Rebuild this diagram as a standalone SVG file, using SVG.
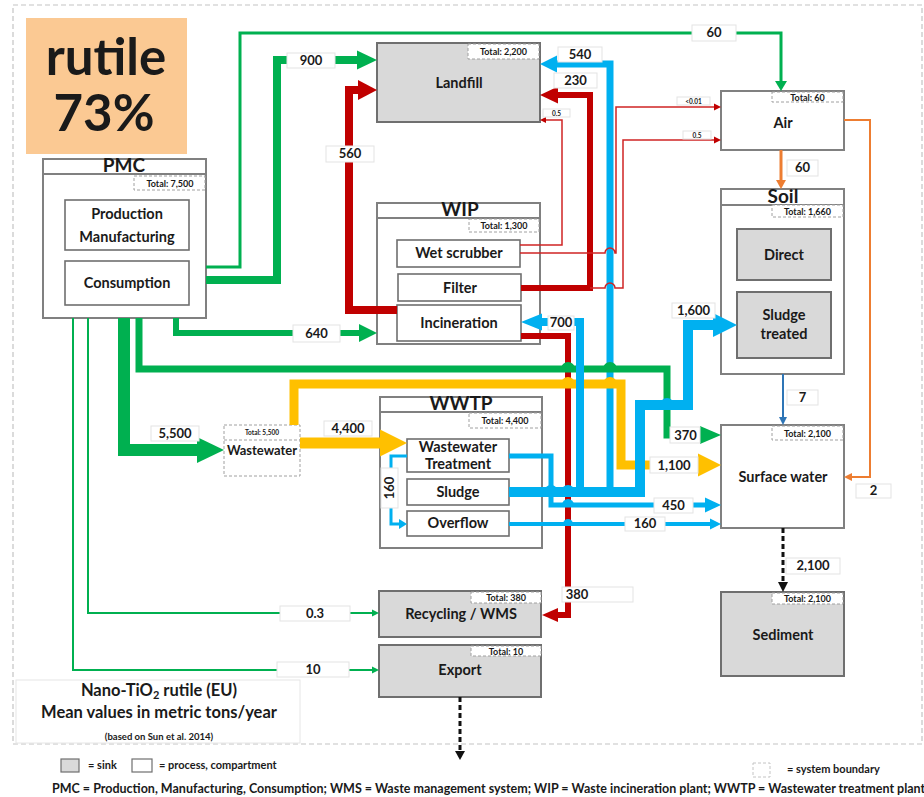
<svg xmlns="http://www.w3.org/2000/svg" xmlns:xlink="http://www.w3.org/1999/xlink" width="924" height="797" viewBox="0 0 924 797">
<defs>
<path id="ah" d="M-1,-1 L0,0 L-1,1 Z"/>
<style>
text{font-family:Lato,"Open Sans","Liberation Sans",sans-serif;fill:#1a1a1a;font-weight:700}
.box{fill:#fff;stroke:#808080;stroke-width:2}
.in{fill:#fff;stroke:#6f6f6f;stroke-width:1.6}
.sink{fill:#d9d9d9;stroke:#6f6f6f;stroke-width:2}
.tot{fill:#fff;stroke:#a0a0a0;stroke-width:1;stroke-dasharray:3 2}
.tt{font-size:9px;text-anchor:middle}
.lb rect{fill:#fff;stroke:#e3e3e3;stroke-width:1}
.lb text{font-size:13px;text-anchor:middle}
.lb .s{font-size:6.5px}
.nm{text-anchor:middle;font-size:14.5px}
.hd{text-anchor:middle;font-size:19px}
.g{stroke:#00B050;fill:none}
.r{stroke:#C00000;fill:none}
.rt{stroke:#D02424;fill:none}
.b{stroke:#00B0F0;fill:none}
.y{stroke:#FFC000;fill:none}
.o{stroke:#ED7D31;fill:none}
.k{stroke:#111;fill:none;stroke-dasharray:5 3}
</style>
</defs>
<rect width="924" height="797" fill="#fff"/>
<rect x="13" y="5" width="909" height="739" fill="none" stroke="#c4c4c4" stroke-width="1.2" stroke-dasharray="5 3"/>

<g id="title">
<rect x="26" y="18" width="161" height="136" fill="#FBC993"/>
<text x="106" y="75" text-anchor="middle" font-size="51">rutile</text>
<text x="104" y="131" text-anchor="middle" font-size="51">73%</text>
</g>

<g id="pmc">
<rect class="box" x="43" y="159" width="163" height="159"/>
<line x1="43" y1="174" x2="206" y2="174" stroke="#808080" stroke-width="2"/>
<text class="hd" x="124" y="172">PMC</text>
<rect class="tot" x="134" y="176" width="71" height="14"/><text class="tt" x="170" y="187">Total: 7,500</text>
<rect class="in" x="65" y="200" width="124" height="50"/>
<text class="nm" x="127" y="219">Production</text><text class="nm" x="127" y="242">Manufacturing</text>
<rect class="in" x="65" y="261" width="124" height="44"/>
<text class="nm" x="127" y="288">Consumption</text>
</g>

<g id="landfill">
<rect class="sink" x="377" y="43" width="163" height="79"/>
<rect class="tot" x="468" y="44" width="71" height="15"/><text class="tt" x="503.5" y="55">Total: 2,200</text>
<text class="nm" x="459" y="88">Landfill</text>
</g>

<g id="air">
<rect class="box" x="721" y="91" width="123" height="59"/>
<rect class="tot" x="772" y="92" width="71" height="10"/><text class="tt" x="807.5" y="100.5">Total: 60</text>
<text class="nm" x="783" y="128" font-size="21">Air</text>
</g>

<g id="soil">
<rect class="box" x="721" y="189" width="123" height="185"/>
<line x1="721" y1="205" x2="844" y2="205" stroke="#808080" stroke-width="2"/>
<text class="hd" x="783" y="203">Soil</text>
<rect class="tot" x="772" y="205" width="71" height="12"/><text class="tt" x="807.5" y="215">Total: 1,660</text>
<rect class="sink" x="737" y="229" width="94" height="51"/>
<text class="nm" x="784" y="260">Direct</text>
<rect class="sink" x="737" y="292" width="94" height="66"/>
<text class="nm" x="784" y="320">Sludge</text><text class="nm" x="784" y="339">treated</text>
</g>

<g id="wip">
<rect class="box" x="377" y="203" width="163" height="141"/>
<line x1="377" y1="218" x2="540" y2="218" stroke="#808080" stroke-width="2"/>
<text class="hd" x="460" y="216">WIP</text>
<rect class="tot" x="469" y="219" width="70" height="13"/><text class="tt" x="504" y="229">Total: 1,300</text>
<rect class="in" x="397" y="240" width="123" height="27"/><text class="nm" x="459" y="258">Wet scrubber</text>
<rect class="in" x="398" y="274" width="123" height="27"/><text class="nm" x="460" y="293">Filter</text>
<rect class="in" x="397" y="305" width="124" height="36"/><text class="nm" x="459" y="328">Incineration</text>
</g>

<g id="wastewater">
<rect x="224" y="425" width="76" height="51" fill="#fff" stroke="#a0a0a0" stroke-width="1" stroke-dasharray="3 2"/>
<line x1="224" y1="440" x2="300" y2="440" stroke="#a0a0a0" stroke-width="1" stroke-dasharray="3 2"/>
<text x="262" y="435" text-anchor="middle" font-size="6.5">Total: 5,500</text>
<text x="262" y="455" text-anchor="middle" font-size="13">Wastewater</text>
</g>

<g id="wwtp">
<rect class="box" x="380" y="397" width="162" height="151"/>
<line x1="380" y1="412" x2="542" y2="412" stroke="#808080" stroke-width="2"/>
<text class="hd" x="461" y="410">WWTP</text>
<rect class="tot" x="469" y="413" width="72" height="15"/><text class="tt" x="505" y="424">Total: 4,400</text>
<rect class="in" x="407" y="439" width="102" height="33"/>
<text class="nm" x="458" y="452" font-size="14">Wastewater</text><text class="nm" x="458" y="469" font-size="14">Treatment</text>
<rect class="in" x="407" y="479" width="102" height="26"/><text class="nm" x="458" y="497">Sludge</text>
<rect class="in" x="407" y="511" width="102" height="25"/><text class="nm" x="458" y="528">Overflow</text>
</g>

<g id="surfacewater">
<rect class="box" x="721" y="425" width="123" height="103"/>
<rect class="tot" x="772" y="426" width="71" height="14"/><text class="tt" x="807.5" y="437">Total: 2,100</text>
<text class="nm" x="783" y="482" font-size="17.5">Surface water</text>
</g>

<g id="sediment">
<rect class="sink" x="721" y="592" width="123" height="84"/>
<rect class="tot" x="772" y="593" width="71" height="11"/><text class="tt" x="807.5" y="602">Total: 2,100</text>
<text class="nm" x="783" y="640" font-size="18.5">Sediment</text>
</g>

<g id="recycling">
<rect class="sink" x="379" y="591" width="162" height="46"/>
<rect class="tot" x="471" y="592" width="70" height="11"/><text class="tt" x="506" y="601">Total: 380</text>
<text class="nm" x="461" y="619" font-size="15">Recycling / WMS</text>
</g>

<g id="export">
<rect class="sink" x="379" y="645" width="162" height="52"/>
<rect class="tot" x="471" y="646" width="70" height="10"/><text class="tt" x="506" y="654.5">Total: 10</text>
<text class="nm" x="460" y="675" font-size="15">Export</text>
</g>

<g id="connectors">
<g id="f380"><path class="r" stroke-width="6" d="M521,336 H568 V615 H557"/><use xlink:href="#ah" fill="#C00000" transform="translate(542,615) rotate(180) scale(16,7)"/></g>
<g id="f540"><path class="b" stroke-width="7" d="M610,492 V64 H556"/><use xlink:href="#ah" fill="#00B0F0" transform="translate(540,64) rotate(180) scale(17,8.5)"/></g>
<g id="f450"><path class="b" stroke-width="5" d="M509,456 H551 V505 H706"/><path d="M562,505 A6,6 0 0 1 574,505 Z" fill="#00B0F0"/><use xlink:href="#ah" fill="#00B0F0" transform="translate(721,505) scale(16,7.5)"/></g>
<g id="f160o"><path class="b" stroke-width="4" d="M509,524 H711"/><path d="M563,524 A5,5 0 0 1 573,524 Z" fill="#00B0F0"/><use xlink:href="#ah" fill="#00B0F0" transform="translate(721,524) scale(11,5.5)"/></g>
<g id="f230"><path class="r" stroke-width="6" d="M521,288 H590 V95 H557"/><use xlink:href="#ah" fill="#C00000" transform="translate(540,95) rotate(180) scale(18,8.5)"/></g>
<g id="f560"><path class="r" stroke-width="8" d="M397,310 H349 V90 H359"/><use xlink:href="#ah" fill="#C00000" transform="translate(377,90) scale(19,10)"/></g>
<g id="f05l"><path class="rt" stroke-width="1.5" d="M520,245 H562 V120 H546"/><use xlink:href="#ah" fill="#C00000" transform="translate(540,120) rotate(180) scale(6,3)"/></g>
<g id="f001"><path class="rt" stroke-width="1.5" d="M520,253 H605 A5,5 0 0 1 615,253 H616 V107 H715"/><use xlink:href="#ah" fill="#C00000" transform="translate(721,107) scale(7,3.5)"/></g>
<g id="f05a"><path class="rt" stroke-width="1.5" d="M590,288 H605 A5,5 0 0 1 615,288 H623 V140 H715"/><use xlink:href="#ah" fill="#C00000" transform="translate(721,140) scale(7,3.5)"/></g>
<g id="f60"><path class="g" stroke-width="3" d="M206,267 H240 V33 H781 V81"/><use xlink:href="#ah" fill="#00B050" transform="translate(781,91) rotate(90) scale(10,6)"/></g>
<g id="f900"><path class="g" stroke-width="8" d="M206,280 H277 V60 H358"/><use xlink:href="#ah" fill="#00B050" transform="translate(377,60) scale(20,9.5)"/></g>
<g id="f640"><path class="g" stroke-width="6" d="M176,318 V333 H359"/><use xlink:href="#ah" fill="#00B050" transform="translate(377,333) scale(18,9)"/></g>
<g id="f370"><path class="g" stroke-width="7" d="M139,318 V369 H667 V435 H701"/><path d="M561,369 A7,7 0 0 1 575,369 Z M603,369 A7,7 0 0 1 617,369 Z" fill="#00B050"/><use xlink:href="#ah" fill="#00B050" transform="translate(721,435) scale(21,9)"/></g>
<g id="f5500"><path class="g" stroke-width="12" d="M124,318 V450 H198"/><use xlink:href="#ah" fill="#00B050" transform="translate(224,450) scale(27,13)"/></g>
<g id="f03"><path class="g" stroke-width="2" d="M88,318 V613 H372"/><use xlink:href="#ah" fill="#00B050" transform="translate(379,613) scale(7,3.5)"/></g>
<g id="f10"><path class="g" stroke-width="2" d="M73,318 V670 H372"/><use xlink:href="#ah" fill="#00B050" transform="translate(379,670) scale(7,3.5)"/></g>
<g id="f4400"><path class="y" stroke-width="11" d="M300,443 H381"/><use xlink:href="#ah" fill="#FFC000" transform="translate(407,443) scale(27,13.5)"/></g>
<g id="f1100"><path class="y" stroke-width="9" d="M294,425 V384 H621 V465 H699"/><path d="M561,384 A7,7 0 0 1 575,384 Z M603,384 A7,7 0 0 1 617,384 Z" fill="#FFC000"/><use xlink:href="#ah" fill="#FFC000" transform="translate(721,465) scale(23,11.5)"/></g>
<g id="f1600"><path class="b" stroke-width="10" d="M509,492 H640 V405 H688 V325 H713"/><path d="M544,492 A7,7 0 0 1 558,492 Z M561,492 A7,7 0 0 1 575,492 Z M660,405 A7,7 0 0 1 674,405 Z" fill="#00B0F0"/><use xlink:href="#ah" fill="#00B0F0" transform="translate(737,325) scale(24,12)"/></g>
<g id="f700"><path class="b" stroke-width="8" d="M580,492 V322 H542"/><use xlink:href="#ah" fill="#00B0F0" transform="translate(521,322) rotate(180) scale(21,8.5)"/></g>
<g id="f160v"><path class="b" stroke-width="3" d="M407,456 H391 V524 H399"/><use xlink:href="#ah" fill="#00B0F0" transform="translate(407,524) scale(8,5)"/></g>
<g id="f60s"><path class="o" stroke-width="3" d="M781,150 V180"/><use xlink:href="#ah" fill="#ED7D31" transform="translate(781,189) rotate(90) scale(9,5)"/></g>
<g id="f2"><path class="o" stroke-width="2" d="M844,120 H870 V477 H852"/><use xlink:href="#ah" fill="#ED7D31" transform="translate(844,477) rotate(180) scale(8,4)"/></g>
<g id="f7"><path stroke="#2E75B6" fill="none" stroke-width="2" d="M783,374 V417"/><use xlink:href="#ah" fill="#2E75B6" transform="translate(783,425) rotate(90) scale(8,4)"/></g>
<g id="f2100"><path class="k" stroke-width="3" d="M783,528 V582"/><use xlink:href="#ah" fill="#111" transform="translate(783,592) rotate(90) scale(10,5)"/></g>
<g id="fexp"><path class="k" stroke-width="3" d="M460,697 V751"/><use xlink:href="#ah" fill="#111" transform="translate(460,760) rotate(90) scale(9,5)"/></g>
<g class="lb">
<rect x="692" y="25" width="44" height="16"/><text x="714" y="37">60</text>
<rect x="287" y="53" width="48" height="15"/><text x="311" y="65">900</text>
<rect x="293" y="325" width="47" height="17"/><text x="316.5" y="338">640</text>
<rect x="670" y="427" width="30" height="16"/><text x="685.5" y="440">370</text>
<rect x="151" y="426" width="48" height="15"/><text x="175" y="438">5,500</text>
<rect x="280" y="606" width="70" height="15"/><text x="315" y="618">0.3</text>
<rect x="277" y="662" width="72" height="15"/><text x="313" y="674">10</text>
<rect x="324" y="421" width="48" height="15"/><text x="348" y="433">4,400</text>
<rect x="650" y="457" width="48" height="16"/><text x="674" y="470">1,100</text>
<rect x="672" y="303" width="43" height="15"/><text x="693.5" y="315">1,600</text>
<rect x="548" y="316" width="26" height="14"/><text x="561" y="327">700</text>
<rect x="558" y="47" width="44" height="15"/><text x="580" y="59">540</text>
<rect x="654" y="498" width="39" height="15"/><text x="673.5" y="510">450</text>
<rect x="625" y="517" width="40" height="14"/><text x="645" y="528">160</text>
<rect x="381" y="468" width="17" height="40"/><text transform="translate(394,488) rotate(-90)">160</text>
<rect x="326" y="146" width="48" height="16"/><text x="350" y="158">560</text>
<rect x="554" y="73" width="43" height="15"/><text x="575.5" y="85">230</text>
<rect x="543" y="109" width="27" height="8"/><text class="s" x="556.5" y="115.5">0.5</text>
<rect x="677" y="97" width="33" height="8"/><text class="s" x="693.5" y="103.5">&lt;0.01</text>
<rect x="683" y="131" width="28" height="8"/><text class="s" x="697" y="137.5">0.5</text>
<rect x="562" y="587" width="71" height="15"/><text x="577" y="599">380</text>
<rect x="787" y="160" width="31" height="16"/><text x="802.5" y="172">60</text>
<rect x="856" y="484" width="35" height="14"/><text x="873.5" y="495">2</text>
<rect x="787" y="390" width="31" height="15"/><text x="802.5" y="402">7</text>
<rect x="786" y="558" width="54" height="16"/><text x="813" y="570">2,100</text>
</g>
</g>

<g id="legend">
<rect x="16" y="680" width="284" height="63" fill="#fff" stroke="#e6e6e6" stroke-width="1"/>
<text x="159" y="696" text-anchor="middle" font-size="16.5">Nano-TiO<tspan font-size="11" dy="3">2</tspan><tspan dy="-3"> rutile (EU)</tspan></text>
<text x="159" y="718" text-anchor="middle" font-size="16.5">Mean values in metric tons/year</text>
<text x="159" y="740" text-anchor="middle" font-size="9.5">(based on Sun et al. 2014)</text>
<rect x="61" y="759" width="18" height="13" fill="#d9d9d9" stroke="#6f6f6f" stroke-width="1.2"/>
<text x="88" y="769" font-size="11">= sink</text>
<rect x="132" y="759" width="20" height="13" fill="#fff" stroke="#6f6f6f" stroke-width="1.2"/>
<text x="159" y="769" font-size="11">= process, compartment</text>
<rect x="753" y="763" width="17" height="14" fill="none" stroke="#c4c4c4" stroke-width="1" stroke-dasharray="3 2"/>
<text x="787" y="773" font-size="11">= system boundary</text>
<text x="52" y="793" font-size="12.5">PMC = Production, Manufacturing, Consumption; WMS = Waste management system; WIP = Waste incineration plant; WWTP = Wastewater treatment plant</text>
</g>
</svg>
